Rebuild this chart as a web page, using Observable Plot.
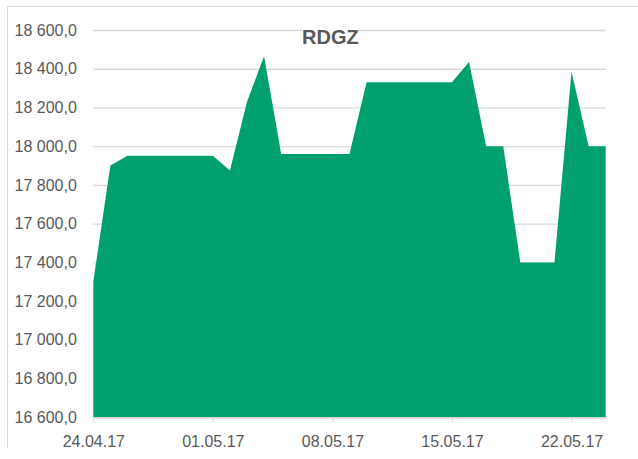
<!DOCTYPE html>
<html>
<head>
<meta charset="utf-8">
<script src="https://cdn.jsdelivr.net/npm/d3@7"></script>
<script src="https://cdn.jsdelivr.net/npm/@observablehq/plot@0.6"></script>
<style>
  html, body { margin: 0; padding: 0; background: #fff; }
  #wrap { position: relative; width: 638px; height: 459px; overflow: hidden; font-family: "Liberation Sans", Arial, sans-serif; }
  #frame { position: absolute; left: 7px; top: 6px; width: 700px; height: 441px; border-left: 1.3px solid #d9d9d9; border-top: 1.3px solid #d9d9d9; }
  #title { position: absolute; left: 302px; top: 25px; width: 56px; height: 24px; line-height: 24px; background: #fff; text-align: center; font-weight: bold; font-size: 20px; color: #595959; white-space: nowrap; }
  #chart { position: absolute; left: 0; top: 0; }
</style>
</head>
<body>
<div id="wrap">
  <div id="frame"></div>
  <div id="chart"></div>
  <div id="title">RDGZ</div>
</div>
<script>
const title = "RDGZ";
const dates = [
  "2017-04-24","2017-04-25","2017-04-26","2017-04-27","2017-04-28","2017-04-29","2017-04-30",
  "2017-05-01","2017-05-02","2017-05-03","2017-05-04","2017-05-05","2017-05-06","2017-05-07",
  "2017-05-08","2017-05-09","2017-05-10","2017-05-11","2017-05-12","2017-05-13","2017-05-14",
  "2017-05-15","2017-05-16","2017-05-17","2017-05-18","2017-05-19","2017-05-20","2017-05-21",
  "2017-05-22","2017-05-23","2017-05-24"
];
const values = [
  17300, 17900, 17950, 17950, 17950, 17950, 17950,
  17950, 17875, 18230, 18465, 17960, 17960, 17960,
  17960, 17960, 18330, 18330, 18330, 18330, 18330,
  18330, 18435, 18000, 18000, 17400, 17400, 17400,
  18385, 18000, 18000
];
const xTicks = ["2017-04-24","2017-05-01","2017-05-08","2017-05-15","2017-05-22"];
const yTicks = [16600, 16800, 17000, 17200, 17400, 17600, 17800, 18000, 18200, 18400, 18600];

const parse = d3.utcParse("%Y-%m-%d");
const data = dates.map((d, i) => ({date: parse(d), value: values[i]}));
const locale = d3.formatLocale({decimal: ",", thousands: " ", grouping: [3], currency: ["", ""]});
const yFmt = locale.format(",.1f");
const xFmt = d3.utcFormat("%d.%m.%y");

const chart = Plot.plot({
  width: 638,
  height: 459,
  marginTop: 30,
  marginBottom: 41.7,
  marginLeft: 93.3,
  marginRight: 32.3,
  style: {fontFamily: "'Liberation Sans', Arial, sans-serif", fontSize: "16px", color: "#595959", background: "transparent"},
  x: {type: "utc", domain: [parse(dates[0]), parse(dates[dates.length - 1])]},
  y: {domain: [16600, 18600]},
  marks: [
    Plot.gridY(yTicks, {stroke: "#d9d9d9", strokeOpacity: 1, strokeWidth: 1.3}),
    Plot.areaY(data, {x: "date", y1: 16600, y2: "value", fill: "#00A06E"}),
    Plot.ruleY([16600], {stroke: "#d9d9d9", strokeWidth: 1.3}),
    Plot.axisY(yTicks, {tickSize: 0, tickPadding: 17, tickFormat: yFmt, fill: "#595959", label: null}),
    Plot.axisX(xTicks.map(parse), {tickSize: 5, tickPadding: 13, tickFormat: xFmt, stroke: "#d9d9d9", fill: "#595959", label: null})
  ]
});
document.getElementById("chart").appendChild(chart);
</script>
</body>
</html>
